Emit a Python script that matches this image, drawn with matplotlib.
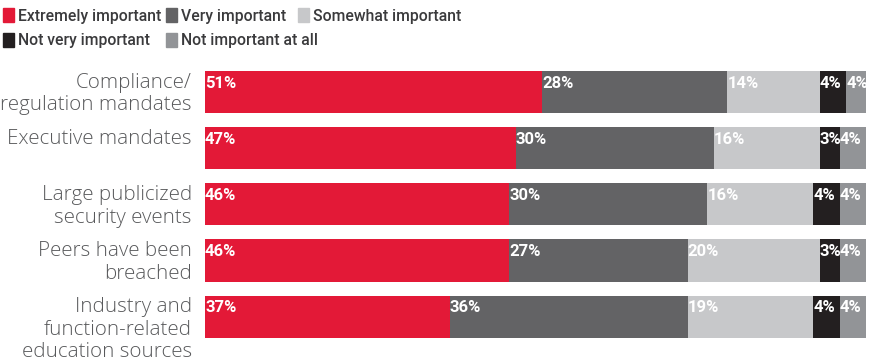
import numpy as np
import matplotlib.pyplot as plt
from matplotlib.patches import Rectangle

categories = ['Compliance/\nregulation mandates', 'Executive mandates',
              'Large publicized\nsecurity events', 'Peers have been\nbreached',
              'Industry and\nfunction-related\neducation sources']
series = ['Extremely important', 'Very important', 'Somewhat important',
          'Not very important', 'Not important at all']
extremely = [51, 47, 46, 46, 37]
very = [28, 30, 30, 27, 36]
somewhat = [14, 16, 16, 20, 19]
not_very = [4, 3, 4, 3, 4]
not_at_all = [4, 4, 4, 4, 4]

colors = ['#E31937', '#636365', '#C7C8CA', '#231F20', '#929497']

fig = plt.figure(figsize=(8.72, 3.64), dpi=100)
ax = fig.add_axes([205 / 872, 0.053, 661 / 872, 0.771])

y = np.arange(len(categories))
h = 0.75
left = np.zeros(len(categories))
for vals, col in zip([extremely, very, somewhat, not_very, not_at_all], colors):
    ax.barh(y, vals, left=left, height=h, color=col, linewidth=0)
    for yi, l, v in zip(y, left, vals):
        ax.text(l, yi - h / 2 + 0.08, f'{v}%', color='white', fontsize=12,
                fontweight='bold', ha='left', va='top', family='Roboto',
                clip_on=True)
    left += np.array(vals)

ax.set_xlim(0, 100)
ax.set_ylim(len(categories) - 0.5, -0.5)
ax.axis('off')

# category labels, top aligned with each bar
for yi, cat in zip(y, categories):
    ax.text(-0.02, yi - h / 2 + 0.03, cat, transform=ax.get_yaxis_transform(),
            ha='right', va='top', fontsize=14.8, color='#58595B',
            family='Open Sans', fontweight='light', linespacing=1.17,
            multialignment='right')

# legend
leg_pos = [(3, 8), (166, 8), (298, 8), (3, 33), (166, 33)]
for (px, py), name, col in zip(leg_pos, series, colors):
    fig.patches.append(Rectangle((px / 872, 1 - (py + 14) / 364), 11 / 872, 14 / 364,
                                 transform=fig.transFigure, color=col))
    fig.text((px + 15) / 872, 1 - (py + 8) / 364, name, ha='left', va='center',
             fontsize=11.3, color='#3A3A3C', family='Roboto', fontweight='medium')

fig.savefig('out.png', dpi=100)
